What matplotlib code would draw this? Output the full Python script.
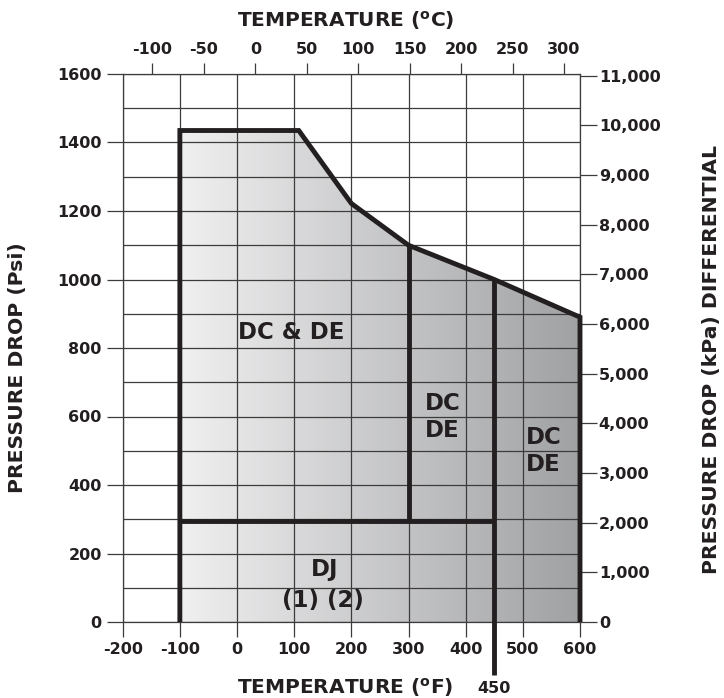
import numpy as np
import matplotlib
matplotlib.use('Agg')
import matplotlib.pyplot as plt
from matplotlib.path import Path
from matplotlib.patches import PathPatch
from matplotlib.colors import LinearSegmentedColormap
from matplotlib.ticker import FuncFormatter, MultipleLocator

# ---------------- data ----------------
boundary_temp_f = [-100, -100, 108, 200, 300, 450, 600, 600]
boundary_psi = [0, 1435, 1435, 1222, 1100, 1000, 890, 0]

dj_limit_temp_f = [-100, 450]
dj_limit_psi = [295, 295]

divider_a_temp_f = [300, 300]
divider_a_psi = [295, 1100]

divider_b_temp_f = [450, 450]
divider_b_psi = [-155, 1000]

x_ticks_f = list(range(-200, 601, 100))
y_ticks_psi = list(range(0, 1601, 200))
top_ticks_c = list(range(-100, 301, 50))
right_ticks_kpa = list(range(0, 11001, 1000))

region_text = ["DC & DE", "DC\nDE", "DC\nDE", "DJ", "(1) (2)"]
region_temp_f = [94, 329, 506, 154, 151]
region_psi = [845, 598, 500, 152, 62]
region_ha = ['center', 'left', 'left', 'center', 'center']

marker_label = "450"
marker_temp_f = 449
marker_psi = -193

PSI_TO_KPA = 6.895

# ---------------- style ----------------
DARK = '#231f20'
GRID = '#3c3c3c'
plt.rcParams['font.family'] = ['DejaVu Sans']
plt.rcParams['font.weight'] = 'bold'
plt.rcParams['mathtext.fontset'] = 'dejavusans'
plt.rcParams['axes.unicode_minus'] = False
plt.rcParams['text.color'] = DARK
plt.rcParams['xtick.color'] = DARK
plt.rcParams['ytick.color'] = DARK

W, H = 724, 698
fig = plt.figure(figsize=(W / 100, H / 100), dpi=100)
L, R, T, B = 122.7, 580, 74, 622
ax = fig.add_axes([L / W, 1 - B / H, (R - L) / W, (B - T) / H])

# gradient fill clipped to the operating envelope
grad = np.linspace(0, 1, 512).reshape(1, -1)
cmap = LinearSegmentedColormap.from_list('g', ['#f0f0f1', '#a0a1a3'])
im = ax.imshow(grad, extent=(min(boundary_temp_f), max(boundary_temp_f), 0, 1600),
               aspect='auto', cmap=cmap, origin='lower', zorder=1,
               interpolation='bilinear')
poly = PathPatch(Path(np.column_stack([boundary_temp_f, boundary_psi])),
                 transform=ax.transData, facecolor='none', edgecolor='none')
ax.add_patch(poly)
im.set_clip_path(poly)

ax.set_xlim(-200, 600)
ax.set_ylim(0, 1600)

# grid
ax.set_axisbelow(False)
ax.set_xticks(x_ticks_f)
ax.set_yticks(y_ticks_psi)
ax.yaxis.set_minor_locator(MultipleLocator(100))
ax.grid(True, which='major', color=GRID, lw=0.9)
ax.grid(True, which='minor', axis='y', color=GRID, lw=0.9)
ax.tick_params(axis='y', which='minor', length=0)
for s in ax.spines.values():
    s.set_color(GRID)
    s.set_linewidth(0.9)

ax.tick_params(axis='x', which='major', direction='out', length=11, width=0.9,
               color=GRID, pad=3.5, labelsize=11.5)
ax.tick_params(axis='y', which='major', direction='out', length=11.5, width=0.9,
               color=GRID, pad=3.5, labelsize=11.5)

# thick envelope lines
lw = 3.5
ax.plot(boundary_temp_f, boundary_psi, color=DARK, lw=lw, zorder=4,
        solid_joinstyle='miter', solid_capstyle='butt', clip_on=False)
ax.plot(dj_limit_temp_f, dj_limit_psi, color=DARK, lw=lw, zorder=4,
        solid_capstyle='butt', clip_on=False)
ax.plot(divider_a_temp_f, divider_a_psi, color=DARK, lw=lw, zorder=4,
        solid_capstyle='butt', clip_on=False)
ax.plot(divider_b_temp_f, divider_b_psi, color=DARK, lw=lw, zorder=4,
        solid_capstyle='butt', clip_on=False)

# region labels
for txt, xf, yp, ha in zip(region_text, region_temp_f, region_psi, region_ha):
    ax.text(xf, yp, txt, ha=ha, va='center', fontsize=16.5, fontweight='bold',
            color=DARK, zorder=5, linespacing=1.2, multialignment='left')

ax.text(marker_temp_f, marker_psi, marker_label, ha='center', va='center',
        fontsize=11.5, fontweight='bold', color=DARK, clip_on=False)

# secondary axes
secx = ax.secondary_xaxis('top', functions=(lambda f: (f - 32) / 1.8,
                                            lambda c: c * 1.8 + 32))
secx.set_xticks(top_ticks_c)
secx.tick_params(direction='out', length=8, width=0.9, color=GRID, pad=4,
                 labelsize=11.5)
secx.spines['top'].set_visible(False)

secy = ax.secondary_yaxis('right', functions=(lambda p: p * PSI_TO_KPA,
                                              lambda k: k / PSI_TO_KPA))
secy.set_yticks(right_ticks_kpa)
secy.yaxis.set_major_formatter(FuncFormatter(lambda v, _: f'{int(round(v)):,}'))
secy.tick_params(direction='out', length=12, width=0.9, color=GRID, pad=1.5,
                 labelsize=11.5)
secy.spines['right'].set_visible(False)

# titles
fig.text(346 / W, 1 - 20 / H, r'TEMPERATURE ($\mathbf{^o}$C)', ha='center',
         va='center', fontsize=14.5, fontweight='bold', color=DARK)
fig.text(345 / W, 1 - 687.5 / H, r'TEMPERATURE ($\mathbf{^o}$F)', ha='center',
         va='center', fontsize=14.5, fontweight='bold', color=DARK)
fig.text(18 / W, 1 - 368 / H, 'PRESSURE DROP (Psi)', rotation=90, ha='center',
         va='center', fontsize=14.7, fontweight='bold', color=DARK)
fig.text(712 / W, 1 - 359 / H, 'PRESSURE DROP (kPa) DIFFERENTIAL', rotation=90,
         ha='center', va='center', fontsize=14.7, fontweight='bold', color=DARK)

fig.savefig('out.png', dpi=100)
